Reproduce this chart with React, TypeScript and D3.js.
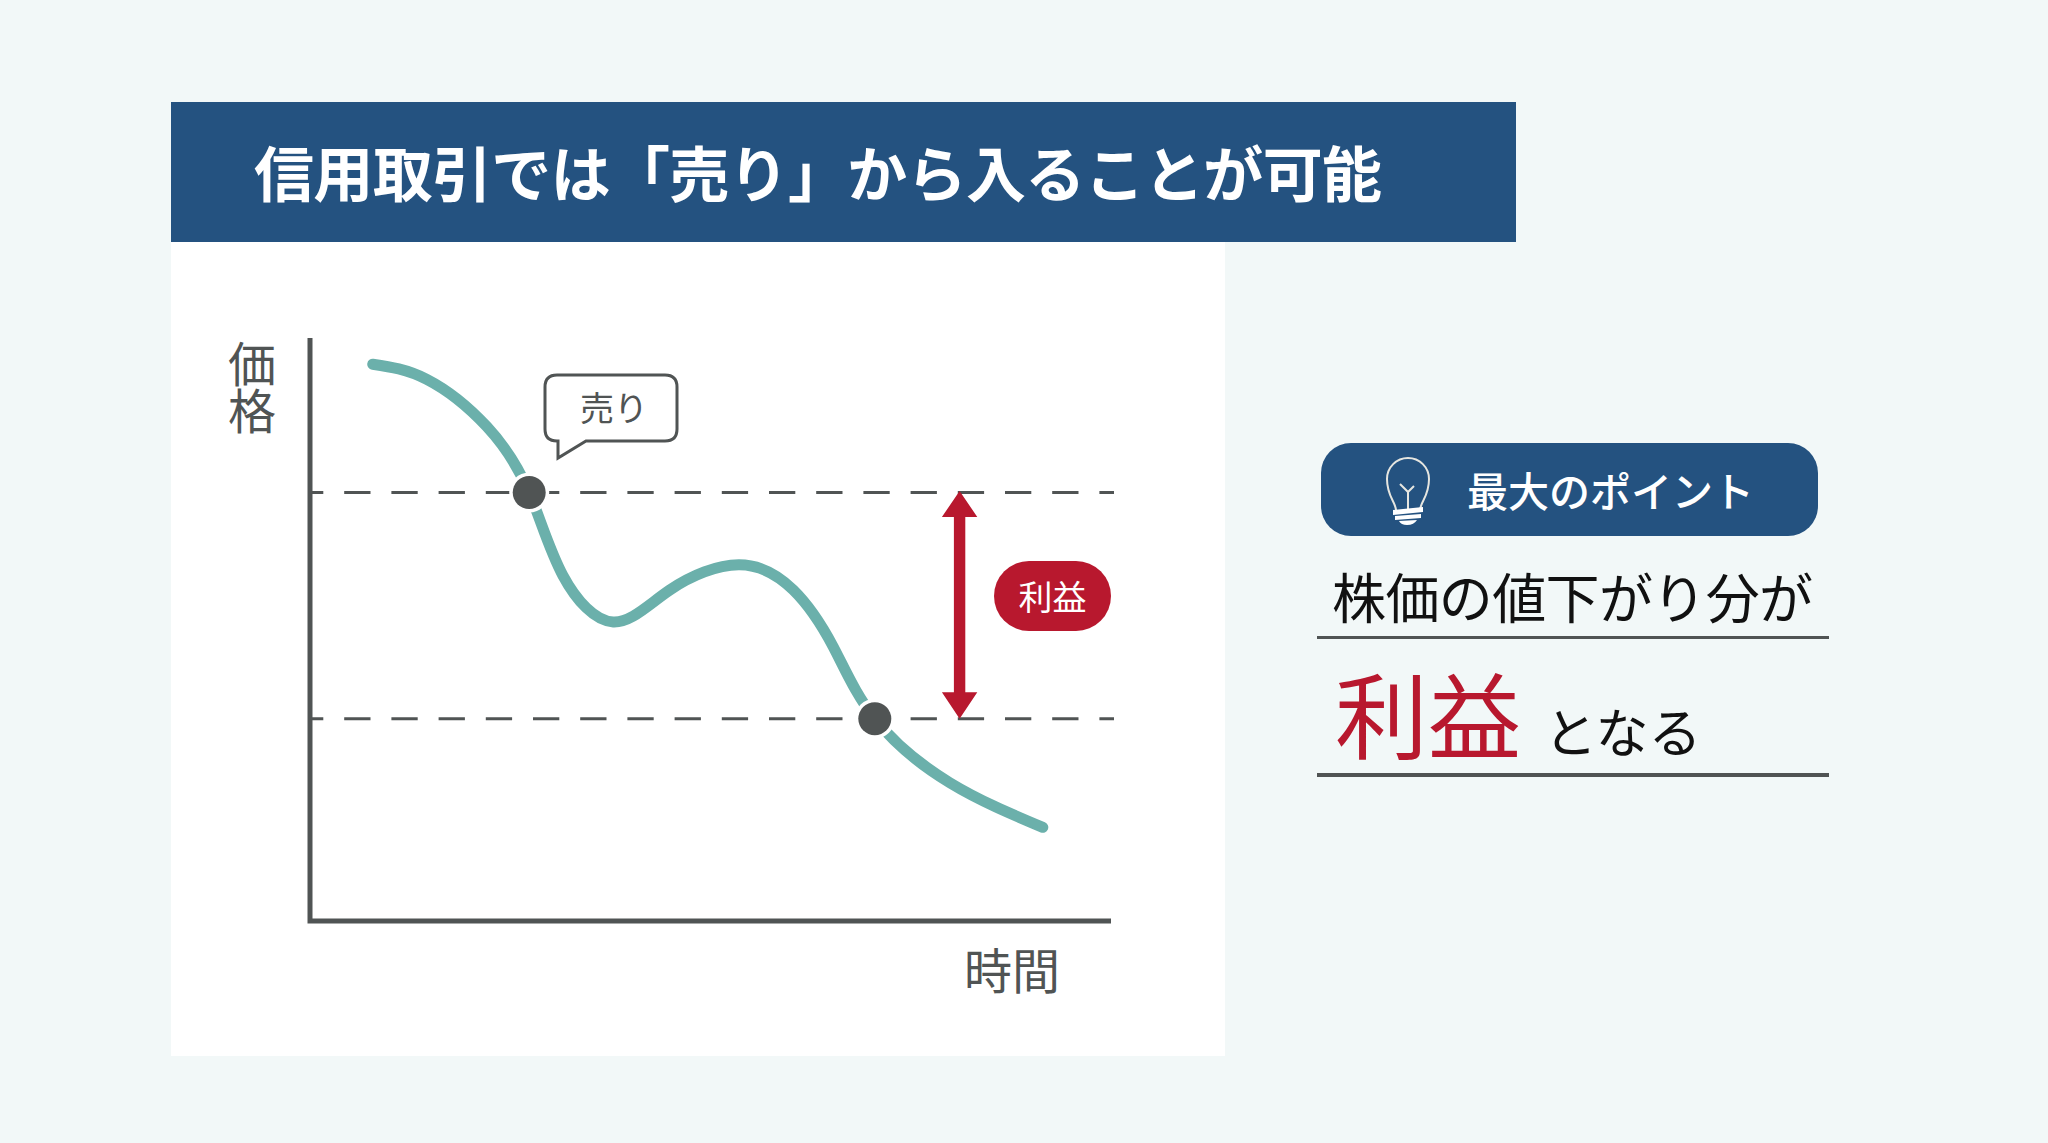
import React from "react";
import * as d3 from "d3";

const timeValues = [7.84, 14.6, 22.1, 27.4, 31.6, 37.9, 45, 53.6, 60.4, 65.4, 70.6, 80, 91.6];
const priceValues = [95.5, 92.9, 84.8, 73.5, 59.3, 51.3, 56.8, 61.1, 56.8, 47.05, 34.7, 23.7, 16.07];
const sellTime = 27.4;
const sellPrice = 73.5;
const buyTime = 70.6;
const buyPrice = 34.7;
const profitTime = 81.2;
const titleText = "信用取引では「売り」から入ることが可能";
const yAxisLabel = "価格";
const xAxisLabel = "時間";
const sellLabel = "売り";
const profitLabel = "利益";
const pointLabel = "最大のポイント";
const line1 = "株価の値下がり分が";
const line2Tail = "となる";

const FONT = "'Noto Sans CJK JP', 'Noto Sans', sans-serif";
const INK = "#505454";
const TEAL = "#6bb0ab";
const NAVY = "#245280";
const RED = "#b8182e";

export default function App() {
  const x = d3.scaleLinear().domain([0, 100]).range([310, 1110]);
  const y = d3.scaleLinear().domain([0, 100]).range([921, 338]);
  const pts: [number, number][] = timeValues.map((t, i) => [x(t), y(priceValues[i])]);
  const path = d3.line().curve(d3.curveNatural)(pts) as string;
  const ay = y(sellPrice);
  const by = y(buyPrice);
  const ax = x(profitTime);
  const arrowPath = d3.path();
  arrowPath.moveTo(ax, ay - 1.5);
  arrowPath.lineTo(ax + 17.7, ay + 24.5);
  arrowPath.lineTo(ax + 5.7, ay + 24.5);
  arrowPath.lineTo(ax + 5.7, by - 26.5);
  arrowPath.lineTo(ax + 17.7, by - 26.5);
  arrowPath.lineTo(ax, by);
  arrowPath.lineTo(ax - 17.7, by - 26.5);
  arrowPath.lineTo(ax - 5.7, by - 26.5);
  arrowPath.lineTo(ax - 5.7, ay + 24.5);
  arrowPath.lineTo(ax - 17.7, ay + 24.5);
  arrowPath.closePath();

  return (
    <svg width={2048} height={1143} style={{ position: "fixed", left: 0, top: 0 }} fontFamily={FONT}>
      <rect width={2048} height={1143} fill="#f2f8f8" />
      <rect x={171} y={242} width={1054} height={814} fill="#ffffff" />
      <rect x={171} y={102} width={1345} height={140} fill={NAVY} />
      <text x={254} y={170} dominantBaseline="central" fontSize={60} fontWeight={700} fill="#ffffff" textLength={1128}>{titleText}</text>

      {[ay, by].map((v) => (
        <line key={v} x1={310} x2={1114} y1={v} y2={v} stroke={INK} strokeWidth={3} strokeDasharray="26.3 20.9" strokeDashoffset={13} />
      ))}
      <path d={`M${x(0)} ${y(100)}V${y(0)}H${x(100) + 1}`} fill="none" stroke={INK} strokeWidth={5} />
      <path d={path} fill="none" stroke={TEAL} strokeWidth={11} strokeLinecap="round" strokeLinejoin="round" />
      {[[sellTime, sellPrice], [buyTime, buyPrice]].map(([t, p]) => (
        <g key={t}>
          <circle cx={x(t)} cy={y(p)} r={20} fill="#ffffff" />
          <circle cx={x(t)} cy={y(p)} r={16.5} fill={INK} />
        </g>
      ))}
      <path d={arrowPath.toString()} fill={RED} />

      <rect x={994} y={561} width={117} height={70} rx={35} fill={RED} />
      <text x={1052.5} y={595} textAnchor="middle" dominantBaseline="central" fontSize={34} fill="#ffffff">{profitLabel}</text>

      <path d="M557 375H665Q677 375 677 387V429Q677 441 665 441H586L558 458V441H557Q545 441 545 429V387Q545 375 557 375Z" fill="#ffffff" stroke={INK} strokeWidth={3} />
      <text x={614} y={406} textAnchor="middle" dominantBaseline="central" fontSize={34} fill={INK}>{sellLabel}</text>

      <text x={252} y={340} textAnchor="start" fontSize={48} letterSpacing={-1} fill={INK} style={{ writingMode: "vertical-rl" }}>{yAxisLabel}</text>
      <text x={1012} y={968} textAnchor="middle" dominantBaseline="central" fontSize={48} fill={INK}>{xAxisLabel}</text>

      <rect x={1321} y={443} width={497} height={93} rx={30} fill={NAVY} />
      <g fill="none" stroke="#e6e6e0" strokeWidth={2}>
        <path d="M1396 510C1395 501 1387 496 1387 479A21 21 0 1 1 1429 479C1429 496 1421 501 1420 510" />
        <path d="M1408 510V492L1400 484M1408 492L1414 486" />
      </g>
      <g fill="#ffffff">
        <path d="M1393 510L1423 507V512L1393 515Z" />
        <path d="M1395 516L1421 514V518L1395 520Z" />
        <path d="M1399 521L1417 520Q1414 525 1407 525Q1401 525 1399 521Z" />
      </g>
      <text x={1467} y={489} dominantBaseline="central" fontSize={41} fontWeight={500} fill="#ffffff" textLength={287}>{pointLabel}</text>

      <text x={1332} y={595} dominantBaseline="central" fontSize={54} fill="#111111" textLength={481}>{line1}</text>
      <line x1={1317} x2={1829} y1={637.5} y2={637.5} stroke={INK} strokeWidth={3} />
      <text x={1335} y={711} dominantBaseline="central" fontSize={93} fill={RED}>{profitLabel}</text>
      <text x={1544} y={730} dominantBaseline="central" fontSize={53} fill="#111111">{line2Tail}</text>
      <line x1={1317} x2={1829} y1={775} y2={775} stroke={INK} strokeWidth={4} />
    </svg>
  );
}
